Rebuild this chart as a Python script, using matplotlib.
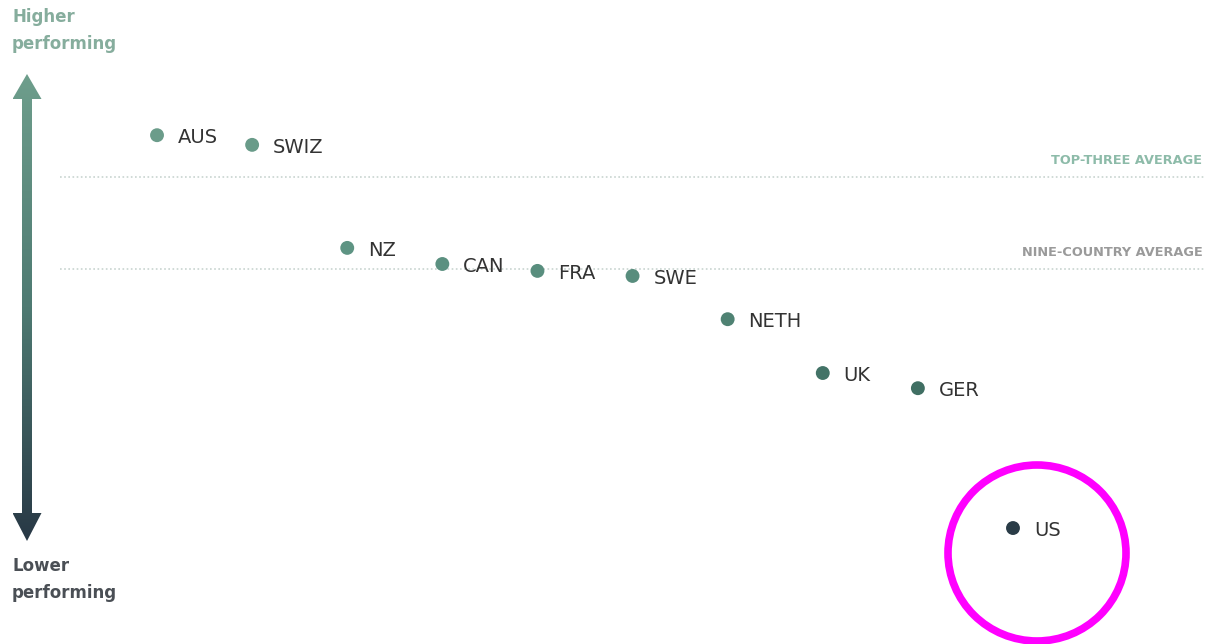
import matplotlib.pyplot as plt
import numpy as np
from matplotlib.colors import LinearSegmentedColormap
from matplotlib.patches import Ellipse, Polygon

# Overall health system performance (ranked, best to worst)
countries = ["AUS", "SWIZ", "NZ", "CAN", "FRA", "SWE", "NETH", "UK", "GER", "US"]
scores = [88.0, 85.9, 63.5, 60.0, 58.5, 57.4, 48.0, 36.3, 33.0, 2.6]
top_three_avg = 78.9
nine_country_avg = 58.9

W, H = 1211, 644
fig = plt.figure(figsize=(W / 100, H / 100), dpi=100)
ax = fig.add_axes([0, 0, 1, 1])
ax.set_xlim(-0.651, 12.082)
ax.set_ylim(-22.61, 117.39)
ax.axis("off")

teal = "#6e9e8c"
dark = "#283845"
cmap = LinearSegmentedColormap.from_list("perf", [dark, "#3f6e62", "#5e9483", teal])

ranks = np.arange(1, len(countries) + 1)

# average lines
for val, label, col in [(top_three_avg, "TOP-THREE AVERAGE", "#8dbba9"),
                        (nine_country_avg, "NINE-COUNTRY AVERAGE", "#9a9a9a")]:
    ax.plot([-0.02, 12.02], [val, val], linestyle=(0, (1, 1.5)), color="#c8d4d0", lw=1.2)
    ax.text(11.99, val + 3.7, label, ha="right", va="center", fontsize=9.3,
            color=col, fontweight="bold")

# points
cols = cmap(np.clip(np.array(scores) / 95, 0, 1))
ax.scatter(ranks, scores, s=100, c=cols, zorder=3, edgecolors="none")
for r, s, name in zip(ranks, scores, countries):
    ax.text(r + 0.22, s - 0.6, name, ha="left", va="center", fontsize=14,
            color="#333333")

# gradient arrow on the left (pixel coords from top-left)
def px(x, y):
    return (x / W, 1 - y / H)

xc = 27
shaft_w, head_w = 5, 14.5
top_tip, top_base = 74, 99
bot_tip, bot_base = 541, 513
outline = [
    px(xc, top_tip), px(xc + head_w, top_base), px(xc + shaft_w, top_base),
    px(xc + shaft_w, bot_base), px(xc + head_w, bot_base), px(xc, bot_tip),
    px(xc - head_w, bot_base), px(xc - shaft_w, bot_base), px(xc - shaft_w, top_base),
    px(xc - head_w, top_base),
]
poly = Polygon(outline, closed=True, transform=fig.transFigure, facecolor="none", edgecolor="none")
fig.add_artist(poly)
grad = np.linspace(1, 0, 256).reshape(-1, 1)
garrow = LinearSegmentedColormap.from_list("arrow", [dark, "#4e7a72", teal])
x0, y0 = px(xc - head_w, top_tip)
x1, y1 = px(xc + head_w, bot_tip)
img_ax = fig.add_axes([x0, y1, x1 - x0, y0 - y1])
img_ax.axis("off")
img = img_ax.imshow(grad, aspect="auto", cmap=garrow, extent=[0, 1, 0, 1], vmin=0, vmax=1)
img.set_clip_path(poly)

fig.text(12 / W, 1 - 8 / H, "Higher\nperforming", ha="left", va="top", fontsize=12,
         fontweight="bold", color="#86ad9d", linespacing=1.65)
fig.text(12 / W, 1 - 557 / H, "Lower\nperforming", ha="left", va="top", fontsize=12,
         fontweight="bold", color="#4a4f55", linespacing=1.65)

# highlight circle around US
ell = Ellipse((1037 / W, 1 - 553 / H), 178 / W, 176 / H, transform=ax.transAxes,
              facecolor="none", edgecolor="#ff00ff", lw=5.5, zorder=4, clip_on=False)
ax.add_patch(ell)

fig.savefig("out.png", dpi=100)
